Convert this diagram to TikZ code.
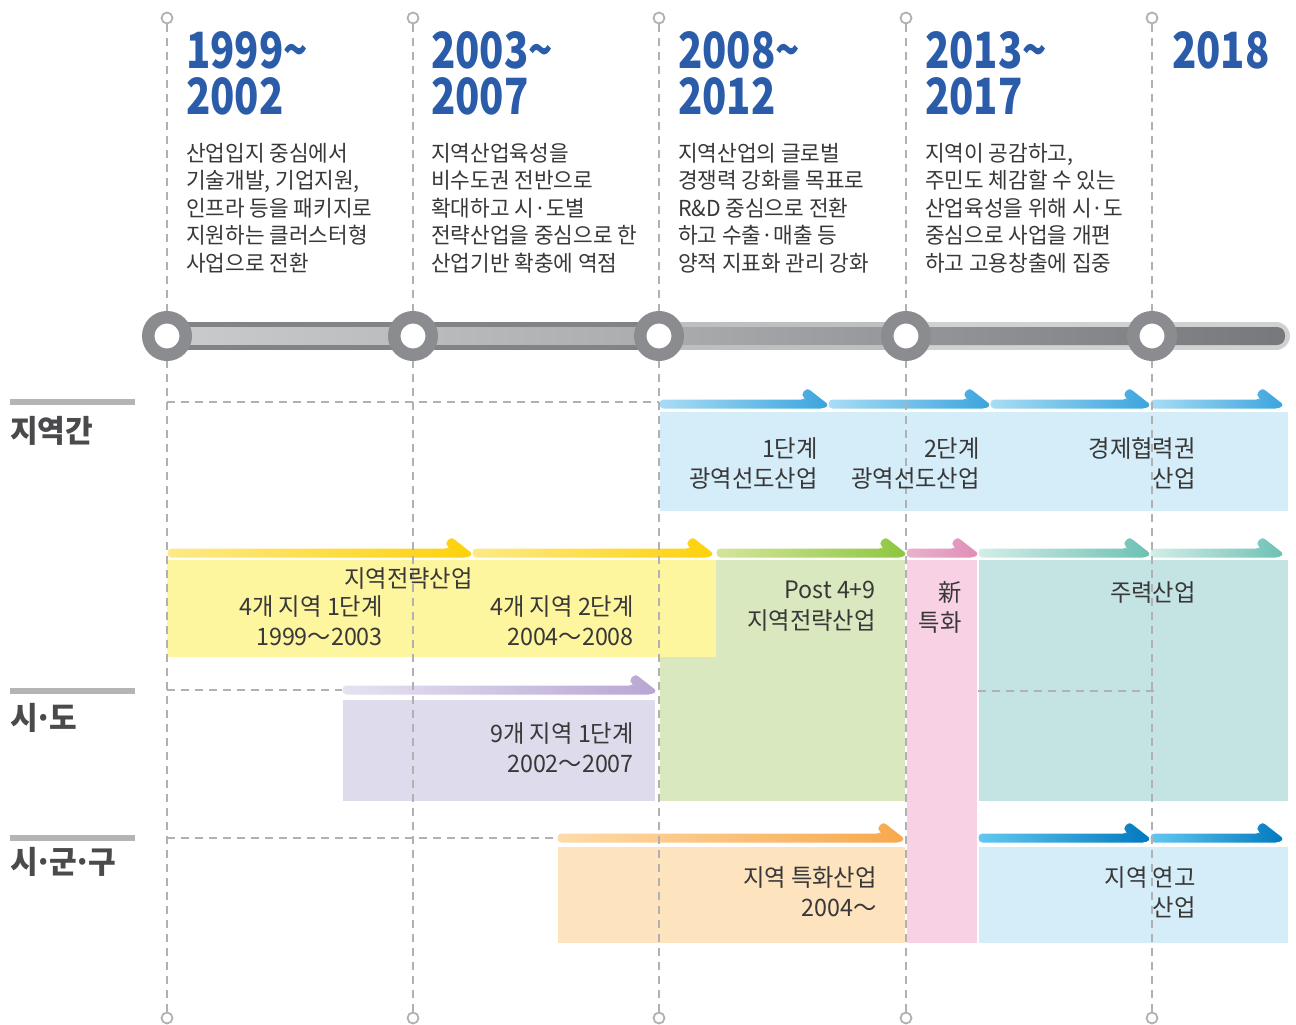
\documentclass[tikz,border=0pt]{standalone}
\usepackage{fontspec}
\setmainfont{Noto Sans CJK KR}
\newfontfamily\bodyfont[FakeStretch=0.97]{Noto Sans CJK KR}
\newfontfamily\yearfont[FakeStretch=0.80]{Noto Sans CJK KR}
\usetikzlibrary{shadows,positioning}

\definecolor{yearblue}{HTML}{2B5CA9}
\definecolor{textgray}{HTML}{383838}
\definecolor{rowgray}{HTML}{4A4A4C}
\definecolor{rowbar}{HTML}{B4B4B7}
\definecolor{linegray}{HTML}{B1B1B4}
\definecolor{knobgray}{HTML}{8B8C8F}
\definecolor{bardark}{HTML}{828386}
\definecolor{barlight}{HTML}{CACBCD}
\definecolor{barmid}{HTML}{ABACAE}
\definecolor{barmidb}{HTML}{95969A}
\definecolor{barpale}{HTML}{BEBFC1}
\definecolor{barpaleb}{HTML}{D0D1D3}
\definecolor{bardarkb}{HTML}{77787B}
% blocks
\definecolor{blueblk}{HTML}{D5ECF9}
\definecolor{yellowblk}{HTML}{FEF59F}
\definecolor{greenblk}{HTML}{DAE8BF}
\definecolor{pinkblk}{HTML}{F8D2E4}
\definecolor{tealblk}{HTML}{C3E4E2}
\definecolor{purpleblk}{HTML}{DEDBEC}
\definecolor{orangeblk}{HTML}{FDE3BE}
% arrow strips
\definecolor{blueA}{HTML}{A9DCF4}\definecolor{blueB}{HTML}{3AA4DD}
\definecolor{yellowA}{HTML}{FDEA88}\definecolor{yellowB}{HTML}{FDD10A}
\definecolor{greenA}{HTML}{D5E59B}\definecolor{greenB}{HTML}{8CC63F}
\definecolor{pinkA}{HTML}{EAB1CD}\definecolor{pinkB}{HTML}{E08DB7}
\definecolor{tealA}{HTML}{D4EDE8}\definecolor{tealB}{HTML}{6CC0B3}
\definecolor{purpleA}{HTML}{E6E2F2}\definecolor{purpleB}{HTML}{B8A6D3}
\definecolor{orangeA}{HTML}{FDDBA8}\definecolor{orangeB}{HTML}{F8A84C}
\definecolor{dblueA}{HTML}{62C8F0}\definecolor{dblueB}{HTML}{0078BE}

\tikzset{
  vline/.style={draw=linegray, line width=2pt, dash pattern=on 8pt off 6pt},
  dotend/.style={circle, draw=linegray, line width=1.8pt, fill=white, minimum size=11pt, inner sep=0pt},
  knob/.style={circle, draw=knobgray, line width=12.5pt, fill=white, minimum size=37.5pt, inner sep=0pt,
    circular drop shadow={shadow xshift=0pt, shadow yshift=0pt, shadow scale=1.14, opacity=.6}},
  year/.style={anchor=north west, inner sep=0pt, align=left, text=yearblue,
    font=\yearfont\bfseries\fontsize{50}{46}\selectfont},
  body/.style={anchor=north west, inner sep=0pt, align=left, text=textgray,
    font=\bodyfont\fontsize{22}{27.5}\selectfont},
  lbl/.style={anchor=north east, inner sep=0pt, align=right, text=textgray,
    font=\bodyfont\fontsize{24}{30.5}\selectfont},
  rowlbl/.style={anchor=west, inner sep=0pt, text=rowgray,
    font=\bodyfont\bfseries\fontsize{31}{36}\selectfont},
  block/.style={draw=white, line width=1.2pt},
}

% strip with a hook: x0, x1, y, left colour, right colour
\newcommand{\stagearrow}[5]{%
  \shade[left color=#4, right color=#5, draw=white, line width=1pt, rounded corners=4pt]
    (#1,#3+5) -- (#2-3,#3+5) -- (#2+2,#3+1) -- (#2-21,#3-17) -- (#2-28,#3-9)
    -- (#2-23,#3-5) -- (#1,#3-5) -- cycle;}
% tight middle dot for the row titles
\newcommand{\rdot}{\kern-3.5pt·\kern-3.5pt}

\begin{document}
\begin{tikzpicture}[x=1pt,y=-1pt]
\useasboundingbox (0,0) rectangle (1296,1025);

% timeline bar
\draw[line width=28pt, bardark] (167,336) -- (659,336);
\shade[left color=barlight, right color=barmid] (167,327.5) rectangle (659,344.5);
\draw[line width=28pt, barpale] (659,336) -- (906,336);
\shade[left color=barmid, right color=barmidb] (659,327.5) rectangle (906,344.5);
\draw[line width=28pt, barpaleb, line cap=round] (906,336) -- (1276,336);
\shade[left color=barmidb, right color=bardarkb, rounded corners=8pt] (906,327) rectangle (1285,345);

% blocks
\fill[blueblk, block] (659,411) rectangle (1289,512);
\fill[greenblk, block] (659,559) rectangle (906,802);
\fill[yellowblk] (167,559.6) rectangle (716,657);
\fill[pinkblk, block] (906,559) rectangle (978,944);
\fill[tealblk, block] (978,559) rectangle (1289,802);
\fill[purpleblk, block] (342,699) rectangle (656,802);
\fill[orangeblk, block] (557,846) rectangle (906,944);
\fill[blueblk, block] (978,846) rectangle (1289,944);

% arrow strips
\stagearrow{659}{828}{404}{blueA}{blueB}
\stagearrow{828}{990}{404}{blueA}{blueB}
\stagearrow{990}{1150}{404}{blueA}{blueB}
\stagearrow{1150}{1283}{404}{blueA}{blueB}
\stagearrow{167}{472}{553}{yellowA}{yellowB}
\stagearrow{472}{713}{553}{yellowA}{yellowB}
\stagearrow{716}{906}{553}{greenA}{greenB}
\stagearrow{906}{978}{553}{pinkA}{pinkB}
\stagearrow{978}{1150}{553}{tealA}{tealB}
\stagearrow{1150}{1283}{553}{tealA}{tealB}
\stagearrow{342}{656}{690}{purpleA}{purpleB}
\stagearrow{557}{904}{838}{orangeA}{orangeB}
\stagearrow{978}{1150}{838}{dblueA}{dblueB}
\stagearrow{1150}{1283}{838}{dblueA}{dblueB}

% period lines
\foreach \x [count=\i] in {167,413,659,906,1152} {
  \node[dotend] (top\i) at (\x,18) {};
  \node[dotend] (bot\i) at (\x,1018) {};
  \draw[vline] (top\i.south) -- (bot\i.north);
}
\coordinate (gapJ) at (659,402);
\coordinate (gapS) at (342,690);
\coordinate (gapG) at (557,838);
\draw[vline] (167,402) -- (gapJ);
\draw[vline] (167,690) -- (gapS);
\draw[vline] (167,838) -- (gapG);
\draw[vline] (978,691) -- (1155,691);

% knobs on the bar
\foreach \x [count=\i] in {167,413,659,906,1152}
  \node[knob] (knob\i) at (\x,336) {};

% row titles
\fill[rowbar] (10,399) rectangle (135,405);
\node[rowlbl] (rowJ) at (10,431) {지역간};
\fill[rowbar] (10,688) rectangle (135,694);
\node[rowlbl] (rowS) at (10,718) {시\rdot 도};
\fill[rowbar] (10,835) rectangle (135,841);
\node[rowlbl] (rowG) at (10,862) {시\rdot 군\rdot 구};

% periods
\node[year] (y1) at (186,31) {1999\textasciitilde\\2002};
\node[year] (y2) at (431,31) {2003\textasciitilde\\2007};
\node[year] (y3) at (678,31) {2008\textasciitilde\\2012};
\node[year] (y4) at (925,31) {2013\textasciitilde\\2017};
\node[year] (y5) at (1172,31) {2018};

\node[body] (d1) at (186,143) {산업입지 중심에서\\기술개발, 기업지원,\\인프라 등을 패키지로\\지원하는 클러스터형\\사업으로 전환};
\node[body] (d2) at (431,143) {지역산업육성을\\비수도권 전반으로\\확대하고 시·도별\\전략산업을 중심으로 한\\산업기반 확충에 역점};
\node[body] (d3) at (678,143) {지역산업의 글로벌\\경쟁력 강화를 목표로\\R\&D 중심으로 전환\\하고 수출·매출 등\\양적 지표화 관리 강화};
\node[body] (d4) at (925,143) {지역이 공감하고,\\주민도 체감할 수 있는\\산업육성을 위해 시·도\\중심으로 사업을 개편\\하고 고용창출에 집중};

% programme labels
\node[lbl] (wide1) at (818,437) {1단계\\광역선도산업};
\node[lbl] (wide2) at (980,437) {2단계\\광역선도산업};
\node[lbl] (wide3) at (1196,437) {경제협력권\\산업};
\node[lbl] (strat) at (473,567) {지역전략산업};
\node[lbl] (four1) at (383,595) {4개 지역 1단계\\1999～2003};
\node[lbl] (four2) at (634,595) {4개 지역 2단계\\2004～2008};
\node[lbl] (post) at (876,581) {Post 4+9\\지역전략산업};
\node[lbl] (newsp) at (962,581) {新\\특화};
\node[lbl] (main) at (1196,581) {주력산업};
\node[lbl] (nine) at (634,722) {9개 지역 1단계\\2002～2007};
\node[lbl] (spec) at (877,866) {지역 특화산업\\2004～};
\node[lbl] (local) at (1196,866) {지역 연고\\산업};
\end{tikzpicture}
\end{document}
